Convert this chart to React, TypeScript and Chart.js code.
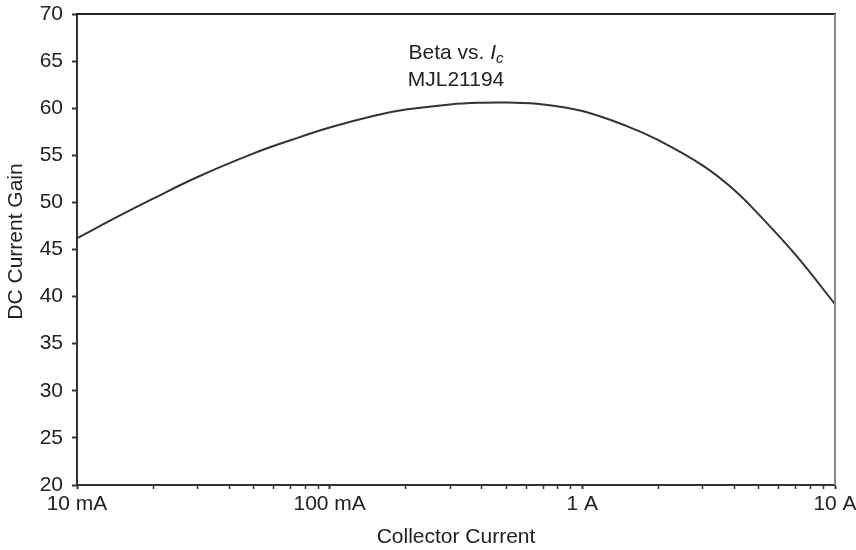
import React, { useEffect, useRef } from 'react';
import { Chart, registerables } from 'chart.js';

Chart.register(...registerables);

// Collector current (A) and DC current gain
const collectorCurrentA = [0.01, 0.015, 0.02, 0.03, 0.05, 0.07, 0.1, 0.15, 0.2, 0.3, 0.4, 0.5, 0.7, 1, 1.5, 2, 3, 4, 5, 7, 10];
const dcCurrentGain = [46.2, 48.7, 50.4, 52.7, 55.2, 56.6, 57.95, 59.2, 59.85, 60.4, 60.58, 60.6, 60.4, 59.7, 58.1, 56.6, 53.9, 51.3, 48.7, 44.4, 39.2];

const decadeValues = [0.01, 0.1, 1, 10];
const decadeLabels = ['10 mA', '100 mA', '1 A', '10 A'];
const minorMultipliers = [2, 3, 4, 5, 6, 7, 8, 9];

const yMin = 20;
const yMax = 70;
const yStep = 5;

const xTitle = 'Collector Current';
const yTitle = 'DC Current Gain';
const chartTitleMain = 'Beta vs. ';
const chartTitleSymbol = 'I';
const chartTitleSub = 'c';
const chartTitleLine2 = 'MJL21194';

const FONT = '"Liberation Sans", Arial, Helvetica, sans-serif';
const TEXT = '#222222';

const framePlugin = {
  id: 'frameAndTitle',
  afterDraw(chart: any) {
    const { ctx, chartArea } = chart;
    const { left, right, top, bottom } = chartArea;
    ctx.save();
    // top border
    ctx.strokeStyle = '#222222';
    ctx.lineWidth = 2;
    ctx.beginPath();
    ctx.moveTo(left - 1, top);
    ctx.lineTo(right + 1, top);
    ctx.stroke();
    // right border
    ctx.strokeStyle = '#8a8a8a';
    ctx.lineWidth = 2;
    ctx.beginPath();
    ctx.moveTo(right, top);
    ctx.lineTo(right, bottom);
    ctx.stroke();

    // title inside plot area
    const cx = (left + right) / 2;
    ctx.fillStyle = TEXT;
    ctx.textBaseline = 'middle';
    const normalFont = `21px ${FONT}`;
    const italicFont = `italic 21px ${FONT}`;
    const subFont = `italic 15px ${FONT}`;
    ctx.font = normalFont;
    const w1 = ctx.measureText(chartTitleMain).width;
    ctx.font = italicFont;
    const w2 = ctx.measureText(chartTitleSymbol).width;
    ctx.font = subFont;
    const w3 = ctx.measureText(chartTitleSub).width;
    const total = w1 + w2 + w3;
    let x = cx - total / 2;
    const y1 = top + 39;
    ctx.textAlign = 'left';
    ctx.font = normalFont;
    ctx.fillText(chartTitleMain, x, y1);
    x += w1;
    ctx.font = italicFont;
    ctx.fillText(chartTitleSymbol, x, y1);
    x += w2;
    ctx.font = subFont;
    ctx.fillText(chartTitleSub, x, y1 + 6);
    ctx.font = normalFont;
    ctx.textAlign = 'center';
    ctx.fillText(chartTitleLine2, cx, top + 66);

    // y-axis title
    ctx.save();
    ctx.translate(16, (top + bottom) / 2 - 8);
    ctx.rotate(-Math.PI / 2);
    ctx.textAlign = 'center';
    ctx.textBaseline = 'middle';
    ctx.font = normalFont;
    ctx.fillText(yTitle, 0, 0);
    ctx.restore();

    ctx.restore();
  },
};

export default function App() {
  const canvasRef = useRef<HTMLCanvasElement | null>(null);

  useEffect(() => {
    const canvas = canvasRef.current;
    if (!canvas) return;

    const points = collectorCurrentA.map((c, i) => ({ x: c, y: dcCurrentGain[i] }));
    const tickValues: number[] = [];
    decadeValues.forEach((d, i) => {
      tickValues.push(d);
      if (i < decadeValues.length - 1) minorMultipliers.forEach((m) => tickValues.push(d * m));
    });
    const isMajor = (v: number) => decadeValues.some((d) => Math.abs(d - v) / d < 1e-6);

    const chart = new Chart(canvas, {
      type: 'line',
      data: {
        datasets: [
          {
            data: points,
            borderColor: '#333333',
            borderWidth: 2,
            pointRadius: 0,
            fill: false,
            tension: 0.4,
          },
        ],
      },
      options: {
        animation: false,
        responsive: false,
        maintainAspectRatio: false,
        layout: { padding: { top: 14, right: 21, left: 0, bottom: 0 } },
        plugins: {
          legend: { display: false },
          title: { display: false },
          tooltip: { enabled: false },
        },
        scales: {
          x: {
            type: 'logarithmic',
            min: 0.01,
            max: 10,
            afterBuildTicks: (scale: any) => {
              scale.ticks = tickValues.map((v) => ({ value: v, major: isMajor(v) }));
            },
            afterFit: (scale: any) => {
              scale.height = 65;
              scale.paddingLeft = 0;
              scale.paddingRight = 0;
            },
            border: { display: true, color: '#333333', width: 2 },
            grid: {
              drawOnChartArea: false,
              drawTicks: true,
              tickLength: 4,
              tickColor: '#333333',
              tickWidth: (ctx: any) => (ctx.tick && ctx.tick.major ? 2 : 1.5),
            },
            ticks: {
              autoSkip: false,
              maxRotation: 0,
              minRotation: 0,
              padding: 3,
              color: TEXT,
              font: { family: FONT, size: 21 },
              callback: (value: any) => {
                const idx = decadeValues.findIndex((d) => Math.abs(d - Number(value)) / d < 1e-6);
                return idx >= 0 ? decadeLabels[idx] : '';
              },
            },
            title: {
              display: true,
              text: xTitle,
              color: TEXT,
              font: { family: FONT, size: 21 },
              padding: { top: 0, bottom: 0 },
            },
          },
          y: {
            type: 'linear',
            min: yMin,
            max: yMax,
            afterFit: (scale: any) => {
              scale.width = 77;
              scale.paddingTop = 0;
              scale.paddingBottom = 0;
            },
            border: { display: true, color: '#333333', width: 2 },
            grid: {
              drawOnChartArea: false,
              drawTicks: true,
              tickLength: 5,
              tickColor: '#333333',
              tickWidth: 2,
            },
            ticks: {
              stepSize: yStep,
              padding: 9,
              color: TEXT,
              font: { family: FONT, size: 21 },
            },
            title: { display: false },
          },
        },
      },
      plugins: [framePlugin],
    });

    return () => {
      chart.destroy();
    };
  }, []);

  return (
    <div style={{ position: 'fixed', left: 0, top: 0, width: 856, height: 550, background: '#ffffff' }}>
      <canvas ref={canvasRef} width={856} height={550} style={{ width: 856, height: 550, display: 'block' }} />
    </div>
  );
}
